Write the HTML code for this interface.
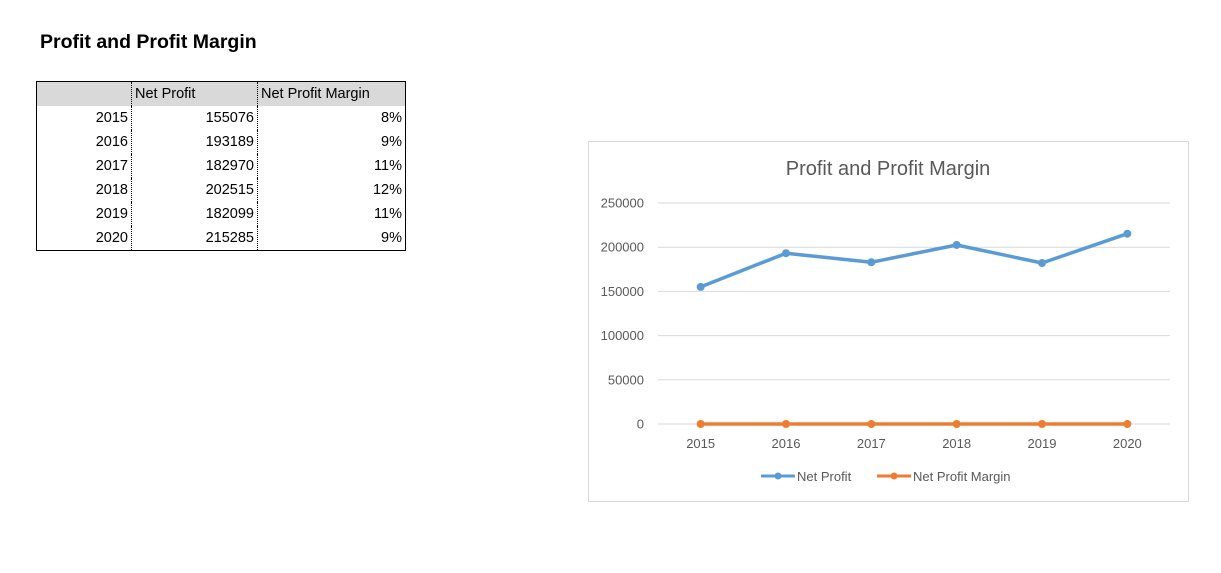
<!DOCTYPE html>
<html><head><meta charset="utf-8"><style>
body{margin:0;width:1221px;height:573px;background:#fff;font-family:"Liberation Sans",Arial,sans-serif;position:relative;overflow:hidden}
#title{position:absolute;left:40px;top:31px;font-size:19.5px;font-weight:bold;color:#000}
table{position:absolute;left:36px;top:81px;border-collapse:collapse;border:1px solid #000;font-size:14.5px}
td{height:24px;padding:1px 3px 0 3px;box-sizing:border-box;line-height:23px}
td+td{border-left:1px dotted #000}
tr.h td{background:#d9d9d9;text-align:left}
td{text-align:right}
</style></head><body>
<div id="title">Profit and Profit Margin</div>
<table>
<colgroup><col style="width:95px"><col style="width:126px"><col style="width:148px"></colgroup>
<tr class="h"><td></td><td>Net Profit</td><td>Net Profit Margin</td></tr>
<tr><td>2015</td><td>155076</td><td>8%</td></tr>
<tr><td>2016</td><td>193189</td><td>9%</td></tr>
<tr><td>2017</td><td>182970</td><td>11%</td></tr>
<tr><td>2018</td><td>202515</td><td>12%</td></tr>
<tr><td>2019</td><td>182099</td><td>11%</td></tr>
<tr><td>2020</td><td>215285</td><td>9%</td></tr>
</table>
<svg id="chart" width="1221" height="573" style="position:absolute;left:0;top:0">
<rect x="588.5" y="141.5" width="600" height="360" fill="#fff" stroke="#d9d9d9"/>
<text x="888" y="175" text-anchor="middle" font-size="20" fill="#595959">Profit and Profit Margin</text>
<g id="grid"></g><g id="series"></g>
<g font-size="13" fill="#595959">
<line x1="761" y1="476" x2="795" y2="476" stroke="#5b9bd5" stroke-width="3"/><circle cx="778" cy="476" r="3.5" fill="#5b9bd5"/>
<text x="797" y="481">Net Profit</text>
<line x1="877" y1="476" x2="911" y2="476" stroke="#ed7d31" stroke-width="3"/><circle cx="894" cy="476" r="3.5" fill="#ed7d31"/>
<text x="913" y="481">Net Profit Margin</text>
</g>
</svg>
<script>
const categories=["2015","2016","2017","2018","2019","2020"];
const netProfit=[155076,193189,182970,202515,182099,215285];
const netMargin=[0.08,0.09,0.11,0.12,0.11,0.09];
const yTicks=[0,50000,100000,150000,200000,250000];
const NS="http://www.w3.org/2000/svg";
const x0=658,x1=1170,yb=424,yt=203,ymax=250000;
const xs=i=>x0+(x1-x0)/categories.length*(i+0.5);
const ys=v=>yb-(v/ymax)*(yb-yt);
function mk(t,a,p){const e=document.createElementNS(NS,t);for(const k in a)e.setAttribute(k,a[k]);p.appendChild(e);return e;}
const g=document.getElementById('grid'),s=document.getElementById('series');
yTicks.forEach(v=>{
 const l=mk('line',{x1:x0,x2:x1,y1:ys(v),y2:ys(v),stroke:'#d9d9d9','stroke-width':1},g);
 
 
 const t=mk('text',{x:644,y:ys(v)+4.5,'text-anchor':'end','font-size':13,fill:'#595959'},g);
 t.textContent=v;
 
 
});
categories.forEach((c,i)=>{
 const t=mk('text',{x:xs(i),y:448,'text-anchor':'middle','font-size':13,fill:'#595959'},g);
 t.textContent=c;
 
 
});
function series(vals,col,name){
 const p=mk('polyline',{points:vals.map((v,i)=>xs(i)+','+ys(v)).join(' '),fill:'none',stroke:col,'stroke-width':3.5,'stroke-linejoin':'round'},s);
 
 
 vals.forEach((v,i)=>{
  const c=mk('circle',{cx:xs(i),cy:ys(v),r:4,fill:col},s);
  
  
 });
}
series(netMargin,'#ed7d31','net-profit-margin');
series(netProfit,'#5b9bd5','net-profit');
</script>
</body></html>
